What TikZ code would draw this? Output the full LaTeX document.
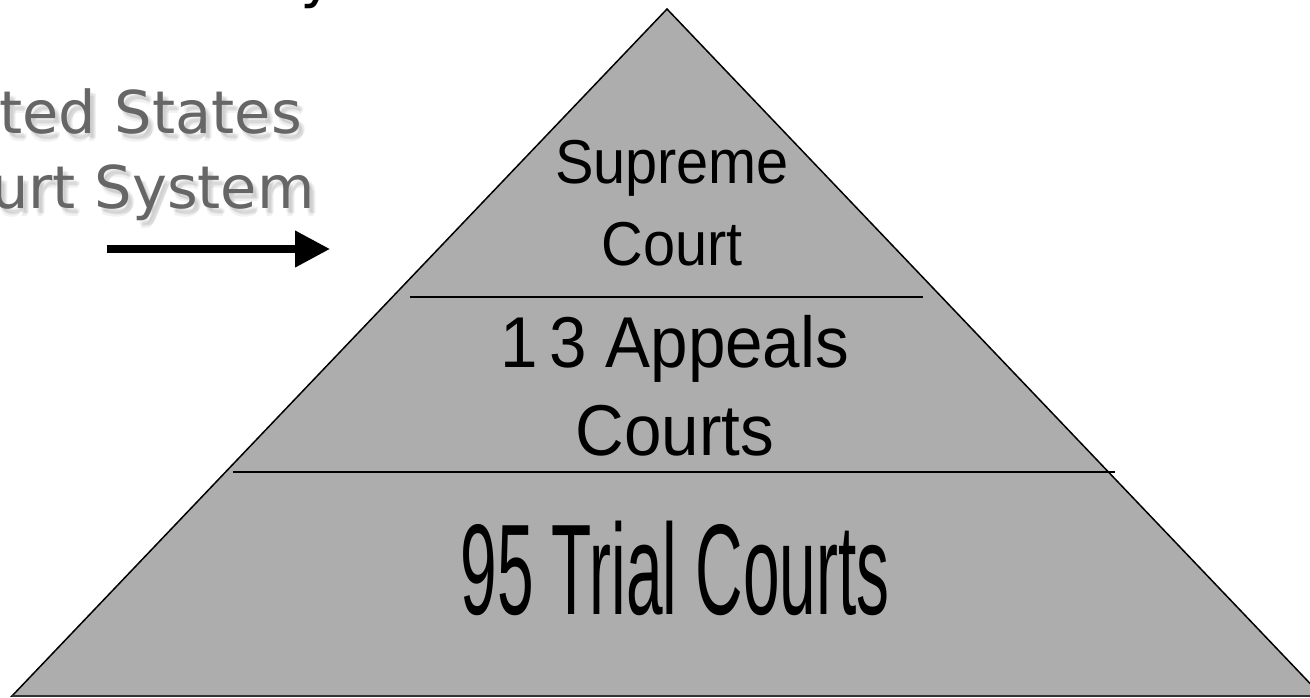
\documentclass[tikz,border=0pt]{standalone}
\usepackage{fontspec}
\setmainfont{Liberation Sans}
\newfontfamily\titlefont{DejaVu Sans}
\usetikzlibrary{arrows.meta}
\definecolor{pyramidgray}{RGB}{173,173,173}
\definecolor{titlegray}{RGB}{102,102,102}
\newcommand{\squeeze}[2]{\scalebox{#1}[1]{#2}}

\begin{document}
\begin{tikzpicture}[x=1pt, y=-1pt]

\useasboundingbox (0,0) rectangle (1310,697);
\clip (0,0) rectangle (1310,697);

%corners of the pyramid
\coordinate (apex) at (667,9);
\coordinate (left) at (12,696);
\coordinate (right) at (1322,696);

%end points of the two dividing lines
\coordinate (top west) at (410,297);
\coordinate (top east) at (923,297);
\coordinate (mid west) at (233,472);
\coordinate (mid east) at (1115,472);

% pyramid
\draw[fill=pyramidgray, draw=black, line width=1.5pt] (left) -- (apex) -- (right) -- cycle;
\draw[draw=black!80, line width=2pt] (left) -- (right);

% dividing lines
\draw[line width=1.5pt] (top west) -- (top east);
\draw[line width=1.5pt] (mid west) -- (mid east);

% labels of the three levels (anchored at the baseline of the last line)
\node[anchor=base, inner sep=0pt, align=center, font=\fontsize{62}{82}\selectfont] (supreme) at (672,265) {\squeeze{0.93}{Supreme}\\\squeeze{0.93}{Court}};
\node[anchor=base, inner sep=0pt, align=center, font=\fontsize{72}{88}\selectfont] (appeals) at (675,455) {\squeeze{0.936}{1\,3 Appeals}\\\squeeze{0.936}{Courts}};
\node[anchor=base, inner sep=0pt, font=\fontsize{129}{140}\selectfont] (trial) at (675,614) {\squeeze{0.51}{95 Trial Courts}};

% soft shadow of the title
\foreach \dx/\dy in {3/4, 5/6, 4/8, 6/5}{
  \node[anchor=base east, inner sep=0pt, text=black, opacity=0.05, font=\titlefont\fontsize{59}{70}\selectfont] (title1 shadow) at (302+\dx,133+\dy) {United States};
  \node[anchor=base east, inner sep=0pt, text=black, opacity=0.05, font=\titlefont\fontsize{59}{70}\selectfont] (title2 shadow) at (315+\dx,208+\dy) {Court System};
}

% title on the left, cut by the border
\node[anchor=base east, inner sep=0pt, text=titlegray, font=\titlefont\fontsize{59}{70}\selectfont] (title1) at (302,133) {United States};
\node[anchor=base east, inner sep=0pt, text=titlegray, font=\titlefont\fontsize{59}{70}\selectfont] (title2) at (315,208) {Court System};
\node[anchor=base, inner sep=0pt, font=\titlefont\fontsize{59}{70}\selectfont] (heading) at (318,-4) {y};

% arrow pointing at the pyramid
\coordinate (arrow start) at (107,249);
\coordinate (arrow end) at (330,249);
\draw[line width=7.5pt, -{Triangle[length=35pt, width=35pt]}] (arrow start) -- (arrow end);

\end{tikzpicture}
\end{document}
